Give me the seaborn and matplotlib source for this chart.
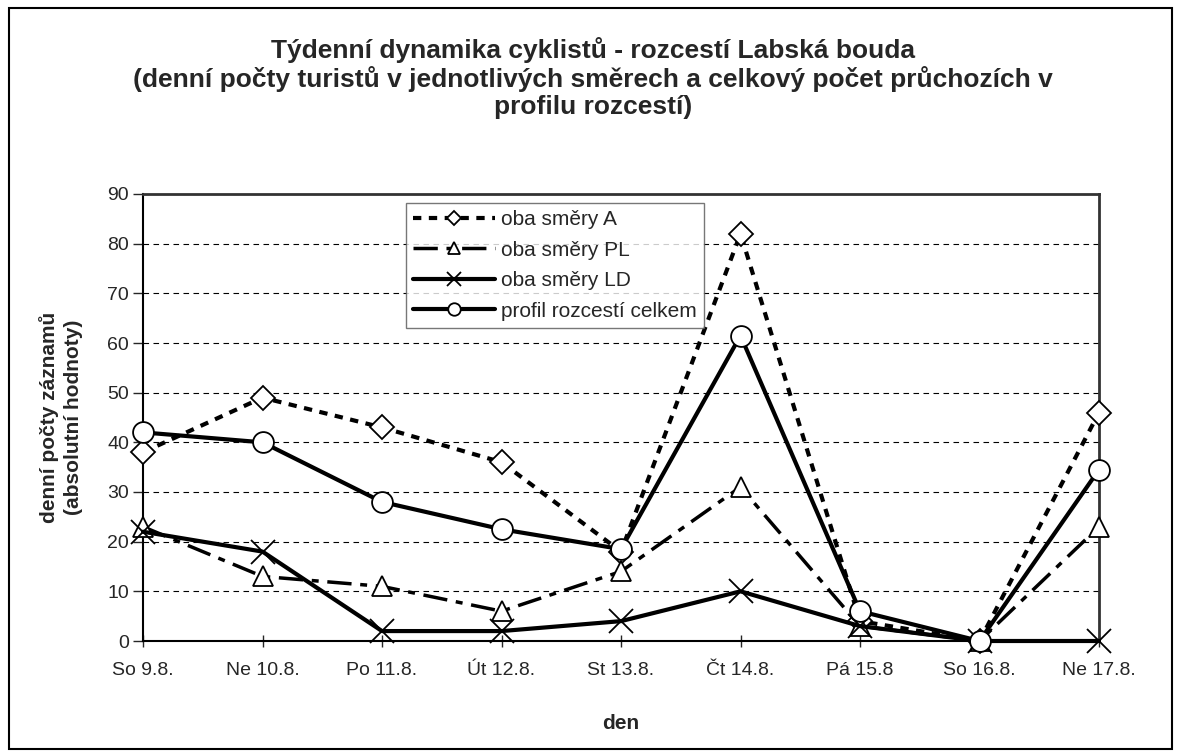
import pandas as pd
import seaborn as sns
import matplotlib.pyplot as plt
from matplotlib.patches import Rectangle

# values
days = ["So 9.8.", "Ne 10.8.", "Po 11.8.", "Út 12.8.", "St 13.8.",
        "Čt 14.8.", "Pá 15.8", "So 16.8.", "Ne 17.8."]
oba_smery_a = [38, 49, 43, 36, 18, 82, 4, 0, 46]
oba_smery_pl = [23, 13, 11, 6, 14, 31, 3, 0, 23]
oba_smery_ld = [22, 18, 2, 2, 4, 10, 3, 0, 0]
profil_celkem = [42, 40, 28, 22.5, 18.5, 61.5, 6, 0, 34.5]

series_names = ["oba směry A", "oba směry PL", "oba směry LD", "profil rozcestí celkem"]

sns.set_style("white")
plt.rcParams["font.family"] = ["Liberation Sans", "DejaVu Sans"]

fig = plt.figure(figsize=(11.79, 7.56), dpi=100)
ax = fig.add_axes([143 / 1179, 1 - 641 / 756, (1099 - 143) / 1179, (641 - 194) / 756])

# outer chart border
fig.patches.append(Rectangle((9 / 1179, 7 / 756), 1163 / 1179, 741 / 756,
                             transform=fig.transFigure, fill=False,
                             ec="black", lw=1.5))

styles = {
    "oba směry A": dict(marker="D", markersize=12, linestyle=(0, (2, 1.8)), lw=3),
    "oba směry PL": dict(marker="^", markersize=15, linestyle=(0, (7, 2.5, 2, 2.5)), lw=2.5),
    "oba směry LD": dict(marker="x", markersize=17, linestyle="-", lw=3),
    "profil rozcestí celkem": dict(marker="o", markersize=15, linestyle="-", lw=3),
}
values = [oba_smery_a, oba_smery_pl, oba_smery_ld, profil_celkem]

for name, vals in zip(series_names, values):
    sns.lineplot(x=days, y=vals, ax=ax, color="black", sort=False,
                 markerfacecolor="white", markeredgecolor="black",
                 markeredgewidth=1.3, clip_on=False, zorder=3,
                 label=name, **styles[name])

ax.set_xlim(0, len(days) - 1)
ax.set_ylim(0, 90)
ax.set_yticks(range(0, 91, 10))
ax.set_xticks(range(len(days)))
ax.set_xticklabels(days)
ax.tick_params(axis="y", labelsize=14, length=7, width=1, direction="out", left=True, pad=3)
ax.tick_params(axis="x", labelsize=14, length=8, width=1, direction="inout", bottom=True, pad=11)

ax.yaxis.grid(True, color="black", linestyle=(0, (5, 4)), lw=0.8)
ax.xaxis.grid(False)
ax.set_axisbelow(True)
for side in ["left", "bottom"]:
    ax.spines[side].set_color("black")
    ax.spines[side].set_linewidth(1.5)
for side in ["top", "right"]:
    ax.spines[side].set_color("#333333")
    ax.spines[side].set_linewidth(2)

ax.set_xlabel("den", fontsize=15, fontweight="bold")
ax.xaxis.set_label_coords(0.5, (641 - 714) / 447)
ax.xaxis.label.set_va("top")
ax.set_ylabel("denní počty záznamů\n(absolutní hodnoty)", fontsize=15,
              fontweight="bold", linespacing=1.3)
ax.yaxis.set_label_coords((83 - 143) / 956, 0.5)

leg = ax.legend(loc="upper left", bbox_to_anchor=((406 - 143) / 956, (641 - 203) / 447),
                fontsize=15, handlelength=3.9, markerscale=0.6, frameon=True,
                fancybox=False, edgecolor="#555555", borderpad=0.35,
                labelspacing=0.55, handletextpad=0.3, borderaxespad=0)
leg.get_frame().set_linewidth(1)

fig.text(0.503, 1 - 37 / 756,
         "Týdenní dynamika cyklistů - rozcestí Labská bouda\n"
         "(denní počty turistů v jednotlivých směrech a celkový počet průchozích v\n"
         "profilu rozcestí)",
         ha="center", va="top", fontsize=19, fontweight="bold",
         linespacing=1.14)

fig.savefig("out.png", dpi=100)
